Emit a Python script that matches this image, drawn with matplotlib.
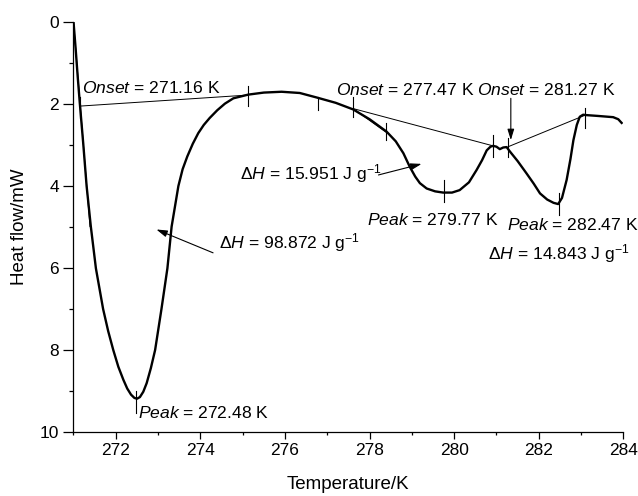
import matplotlib
matplotlib.use("Agg")
import matplotlib.pyplot as plt
from matplotlib.ticker import MultipleLocator

plt.rcParams['font.family'] = ['Liberation Sans', 'DejaVu Sans']
plt.rcParams['mathtext.fontset'] = 'custom'
plt.rcParams['mathtext.rm'] = 'Liberation Sans'
plt.rcParams['mathtext.it'] = 'Liberation Sans:italic'
plt.rcParams['mathtext.bf'] = 'Liberation Sans:bold'

# ---- data ----
temperature = [271.00, 271.05, 271.10, 271.15, 271.23, 271.31, 271.41, 271.53, 271.70, 271.82,
               271.94, 272.06, 272.18, 272.27, 272.36, 272.44, 272.50, 272.57, 272.65, 272.73,
               272.83, 272.93, 273.08, 273.22, 273.32, 273.48, 273.58, 273.69, 273.82, 273.95,
               274.08, 274.22, 274.40, 274.58, 274.78, 275.13, 275.50, 275.92, 276.35, 276.75,
               277.20, 277.61, 278.00, 278.40, 278.62, 278.80, 278.95, 279.08, 279.19, 279.35,
               279.55, 279.74, 279.95, 280.13, 280.35, 280.53, 280.66, 280.77, 280.86, 280.92,
               281.00, 281.08, 281.16, 281.24, 281.32, 281.50, 281.71, 281.88, 282.03, 282.20,
               282.35, 282.46, 282.55, 282.66, 282.75, 282.82, 282.90, 282.97, 283.05, 283.13,
               283.40, 283.76, 283.88, 283.96]
heat_flow = [0.00, 0.65, 1.35, 2.00, 2.97, 4.01, 5.00, 6.02, 7.01, 7.55,
             8.01, 8.42, 8.74, 8.95, 9.10, 9.18, 9.20, 9.16, 9.03, 8.82,
             8.45, 8.01, 7.01, 6.02, 5.00, 4.01, 3.60, 3.29, 2.98, 2.72,
             2.52, 2.35, 2.16, 2.00, 1.87, 1.78, 1.73, 1.71, 1.74, 1.85,
             1.98, 2.14, 2.38, 2.68, 2.92, 3.21, 3.54, 3.78, 3.94, 4.07,
             4.14, 4.17, 4.17, 4.11, 3.92, 3.62, 3.38, 3.14, 3.05, 3.03,
             3.05, 3.11, 3.07, 3.06, 3.17, 3.40, 3.70, 3.95, 4.19, 4.34,
             4.42, 4.45, 4.30, 3.86, 3.35, 2.89, 2.52, 2.32, 2.27, 2.28,
             2.30, 2.33, 2.38, 2.47]

x_ticks = [272, 274, 276, 278, 280, 282, 284]
y_ticks = [0, 2, 4, 6, 8, 10]

# characteristic points marked by short vertical bars: (T, y_top, y_bottom)
mark_T = [271.16, 272.48, 275.13, 276.78, 277.61, 278.40, 279.77, 280.92, 281.28, 282.47, 283.10]
mark_top = [1.83, 9.00, 1.57, 1.83, 1.83, 2.48, 3.86, 2.76, 2.85, 4.19, 2.11]
mark_bot = [2.35, 9.55, 2.06, 2.15, 2.32, 2.89, 4.39, 3.29, 3.29, 4.72, 2.60]

fig = plt.figure(figsize=(6.38, 4.96), dpi=100)
ax = fig.add_axes([0.1152, 0.130, 0.977 - 0.1152, 0.9563 - 0.130])

ax.plot(temperature, heat_flow, color='black', lw=1.7, solid_joinstyle='round', zorder=3)

thin = dict(color='black', lw=0.7, zorder=2)
# baselines and tangents
ax.plot([271.15, 275.13], [2.06, 1.79], **thin)
ax.plot([271.0, 271.39], [0.0, 5.0], **thin)
ax.plot([277.61, 280.92], [2.12, 3.03], **thin)
ax.plot([277.61, 278.42], [2.12, 2.72], **thin)
ax.plot([281.28, 283.10], [3.05, 2.28], **thin)

for t, a, b in zip(mark_T, mark_top, mark_bot):
    ax.plot([t, t], [a, b], color='black', lw=0.8, zorder=4)

arrow = dict(arrowstyle='-|>,head_length=0.65,head_width=0.2', color='black', lw=0.8,
             mutation_scale=10, shrinkA=0, shrinkB=0)
ax.annotate('', xy=(272.96, 5.07), xytext=(274.30, 5.64), arrowprops=arrow)
ax.annotate('', xy=(279.23, 3.47), xytext=(278.21, 3.74), arrowprops=arrow)
ax.annotate('', xy=(281.34, 2.89), xytext=(281.34, 1.87), arrowprops=arrow)

fs = 12.6
txt = dict(fontsize=fs, ha='left', va='baseline')
ax.text(271.19, 1.73, r'$\mathit{Onset}$ = 271.16 K', **txt)
ax.text(277.21, 1.79, r'$\mathit{Onset}$ = 277.47 K', **txt)
ax.text(280.55, 1.79, r'$\mathit{Onset}$ = 281.27 K', **txt)
ax.text(277.93, 4.96, r'$\mathit{Peak}$ = 279.77 K', **txt)
ax.text(281.24, 5.08, r'$\mathit{Peak}$ = 282.47 K', **txt)
ax.text(272.53, 9.67, r'$\mathit{Peak}$ = 272.48 K', **txt)
ax.text(274.45, 5.53, r'$\Delta\mathit{H}$ = 98.872 J g$^{-1}$', **txt)
ax.text(274.94, 3.85, r'$\Delta\mathit{H}$ = 15.951 J g$^{-1}$', **txt)
ax.text(280.81, 5.80, r'$\Delta\mathit{H}$ = 14.843 J g$^{-1}$', **txt)

ax.set_xlim(271, 284)
ax.set_ylim(10, 0)
ax.set_xticks(x_ticks)
ax.set_yticks(y_ticks)
ax.xaxis.set_minor_locator(MultipleLocator(1))
ax.yaxis.set_minor_locator(MultipleLocator(1))
ax.tick_params(axis='both', which='both', direction='out', labelsize=12.5, width=0.9)
ax.tick_params(axis='x', which='major', length=5)
ax.tick_params(axis='x', which='minor', length=2.2)
ax.tick_params(axis='y', which='major', length=7)
ax.tick_params(axis='y', which='minor', length=3)
for s in ['top', 'right']:
    ax.spines[s].set_visible(False)
for s in ['left', 'bottom']:
    ax.spines[s].set_linewidth(0.9)

ax.set_xlabel('Temperature/K', fontsize=13.5, labelpad=13)
ax.set_ylabel('Heat flow/mW', fontsize=13.5, labelpad=8)

fig.savefig('out.png', dpi=100)
